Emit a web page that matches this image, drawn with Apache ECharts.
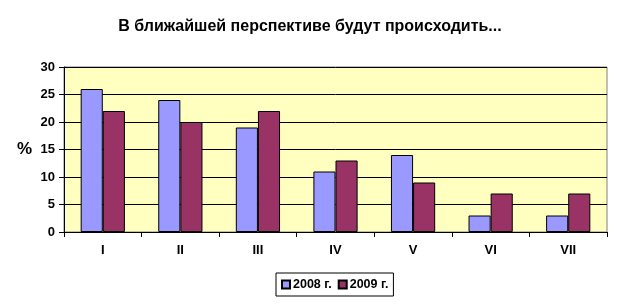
<!DOCTYPE html>
<html><head><meta charset="utf-8">
<script src="https://cdn.jsdelivr.net/npm/echarts@6/dist/echarts.min.js"></script>
<style>html,body{margin:0;padding:0;background:#fff}#c{width:624px;height:307px}</style>
</head><body><div id="c"></div>
<script>
var categories = ['I','II','III','IV','V','VI','VII'];
var series2008 = [26,24,19,11,14,3,3];
var series2009 = [22,20,22,13,9,7,7];
var seriesNames = ['2008 г.','2009 г.'];
var titleText = 'В ближайшей перспективе будут происходить...';
var yTicks = {min:0,max:30,interval:5};

var F = 'Liberation Sans, Arial, sans-serif';
var chart = echarts.init(document.getElementById('c'));
chart.setOption({
  animation:false,
  title:{text:titleText,top:19,padding:0,textStyle:{fontFamily:F,fontSize:16,fontWeight:'bold',color:'#000'},left:310,textAlign:'center'},
  grid:{left:64,right:17,top:67,bottom:75,show:true,backgroundColor:'#FFFFC0',borderColor:'#808080',borderWidth:1},
  legend:{top:273,left:276,itemWidth:8,itemHeight:8,itemGap:6,icon:'rect',borderColor:'#000',borderWidth:1,padding:[5,5,5,5],
    textStyle:{fontFamily:F,fontSize:12.5,fontWeight:'bold',color:'#000',padding:[0,0,0,-2]},data:seriesNames},
  xAxis:{type:'category',data:categories,axisLine:{lineStyle:{color:'#000'}},axisTick:{show:true,length:5,lineStyle:{color:'#000'}},
    axisLabel:{fontFamily:F,fontSize:13,fontWeight:'bold',color:'#000',margin:12}},
  yAxis:{type:'value',min:yTicks.min,max:yTicks.max,interval:yTicks.interval,name:'%',nameLocation:'middle',nameRotate:0,nameGap:32,
    nameTextStyle:{fontFamily:F,fontSize:17,fontWeight:'bold',color:'#000'},
    axisLine:{show:true,lineStyle:{color:'#000'}},axisTick:{show:true,length:5,lineStyle:{color:'#000'}},
    axisLabel:{fontFamily:F,fontSize:13,fontWeight:'bold',color:'#000',margin:9},
    splitLine:{show:true,lineStyle:{color:'#000',width:1}}},
  series:[
    {name:seriesNames[0],type:'bar',data:series2008,barGap:'0%',barCategoryGap:'43%',itemStyle:{color:'#9999FF',borderColor:'#000',borderWidth:1}},
    {name:seriesNames[1],type:'bar',data:series2009,barGap:'0%',barCategoryGap:'43%',itemStyle:{color:'#993366',borderColor:'#000',borderWidth:1}}
  ]
});
</script></body></html>
